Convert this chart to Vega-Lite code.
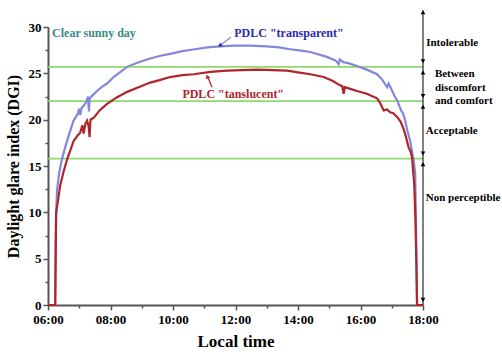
{
  "$schema": "https://vega.github.io/schema/vega-lite/v6.json",
  "width": 375,
  "height": 278,
  "autosize": {"type": "none"},
  "padding": {"left": 48, "top": 27, "right": 79, "bottom": 49},
  "background": "white",
  "config": {"view": {"stroke": null}, "font": "'Liberation Serif', 'DejaVu Serif', serif"},
  "datasets": {
    "curves": [
      {"s":"transparent","t":6.00,"v":0},{"s":"transparent","t":6.23,"v":0},{"s":"transparent","t":6.24,"v":3.5},{"s":"transparent","t":6.25,"v":7},{"s":"transparent","t":6.26,"v":9.9},{"s":"transparent","t":6.29,"v":12.4},{"s":"transparent","t":6.36,"v":14.3},{"s":"transparent","t":6.45,"v":15.8},{"s":"transparent","t":6.6,"v":17.6},{"s":"transparent","t":6.72,"v":18.9},{"s":"transparent","t":6.82,"v":19.9},{"s":"transparent","t":6.95,"v":20.6},{"s":"transparent","t":7.0,"v":21.2},{"s":"transparent","t":7.03,"v":20.5},{"s":"transparent","t":7.08,"v":21.3},{"s":"transparent","t":7.14,"v":21.5},{"s":"transparent","t":7.22,"v":21.9},{"s":"transparent","t":7.28,"v":22.5},{"s":"transparent","t":7.31,"v":20.9},{"s":"transparent","t":7.33,"v":22.3},{"s":"transparent","t":7.45,"v":22.7},{"s":"transparent","t":7.6,"v":23.2},{"s":"transparent","t":7.75,"v":23.6},{"s":"transparent","t":7.89,"v":23.9},{"s":"transparent","t":8.1,"v":24.6},{"s":"transparent","t":8.3,"v":25.1},{"s":"transparent","t":8.53,"v":25.7},{"s":"transparent","t":8.9,"v":26.2},{"s":"transparent","t":9.27,"v":26.6},{"s":"transparent","t":9.6,"v":26.9},{"s":"transparent","t":9.91,"v":27.1},{"s":"transparent","t":10.3,"v":27.4},{"s":"transparent","t":10.7,"v":27.6},{"s":"transparent","t":11.1,"v":27.8},{"s":"transparent","t":11.5,"v":27.9},{"s":"transparent","t":12.0,"v":28.0},{"s":"transparent","t":12.5,"v":28.0},{"s":"transparent","t":13.0,"v":27.9},{"s":"transparent","t":13.4,"v":27.8},{"s":"transparent","t":13.75,"v":27.6},{"s":"transparent","t":14.1,"v":27.45},{"s":"transparent","t":14.39,"v":27.3},{"s":"transparent","t":14.9,"v":26.8},{"s":"transparent","t":15.2,"v":26.4},{"s":"transparent","t":15.3,"v":26.0},{"s":"transparent","t":15.34,"v":26.5},{"s":"transparent","t":15.45,"v":26.2},{"s":"transparent","t":15.6,"v":26.1},{"s":"transparent","t":15.89,"v":25.8},{"s":"transparent","t":16.2,"v":25.4},{"s":"transparent","t":16.53,"v":24.9},{"s":"transparent","t":16.7,"v":24.3},{"s":"transparent","t":16.85,"v":23.5},{"s":"transparent","t":16.9,"v":23.9},{"s":"transparent","t":17.0,"v":23.2},{"s":"transparent","t":17.08,"v":22.6},{"s":"transparent","t":17.17,"v":22.1},{"s":"transparent","t":17.3,"v":21.0},{"s":"transparent","t":17.36,"v":20.7},{"s":"transparent","t":17.43,"v":19.9},{"s":"transparent","t":17.5,"v":18.8},{"s":"transparent","t":17.59,"v":17.7},{"s":"transparent","t":17.70,"v":15.6},{"s":"transparent","t":17.75,"v":14.2},{"s":"transparent","t":17.77,"v":10},{"s":"transparent","t":17.79,"v":5},{"s":"transparent","t":17.81,"v":0},
      {"s":"translucent","t":6.00,"v":0},{"s":"translucent","t":6.23,"v":0},{"s":"translucent","t":6.24,"v":3.5},{"s":"translucent","t":6.25,"v":7},{"s":"translucent","t":6.26,"v":9.9},{"s":"translucent","t":6.39,"v":12.9},{"s":"translucent","t":6.5,"v":14.4},{"s":"translucent","t":6.61,"v":15.7},{"s":"translucent","t":6.82,"v":17.7},{"s":"translucent","t":6.95,"v":18.3},{"s":"translucent","t":7.03,"v":18.6},{"s":"translucent","t":7.1,"v":19.4},{"s":"translucent","t":7.14,"v":18.5},{"s":"translucent","t":7.2,"v":19.6},{"s":"translucent","t":7.25,"v":19.9},{"s":"translucent","t":7.3,"v":19.3},{"s":"translucent","t":7.33,"v":18.1},{"s":"translucent","t":7.36,"v":20.0},{"s":"translucent","t":7.46,"v":20.2},{"s":"translucent","t":7.65,"v":21.0},{"s":"translucent","t":7.89,"v":21.7},{"s":"translucent","t":8.2,"v":22.4},{"s":"translucent","t":8.53,"v":23.0},{"s":"translucent","t":8.9,"v":23.5},{"s":"translucent","t":9.27,"v":24.0},{"s":"translucent","t":9.6,"v":24.3},{"s":"translucent","t":9.91,"v":24.6},{"s":"translucent","t":10.3,"v":24.8},{"s":"translucent","t":10.66,"v":24.9},{"s":"translucent","t":11.2,"v":25.15},{"s":"translucent","t":11.73,"v":25.3},{"s":"translucent","t":12.2,"v":25.35},{"s":"translucent","t":12.7,"v":25.4},{"s":"translucent","t":13.2,"v":25.35},{"s":"translucent","t":13.65,"v":25.3},{"s":"translucent","t":14.0,"v":25.1},{"s":"translucent","t":14.4,"v":24.9},{"s":"translucent","t":14.82,"v":24.6},{"s":"translucent","t":15.1,"v":24.2},{"s":"translucent","t":15.35,"v":23.7},{"s":"translucent","t":15.42,"v":23.6},{"s":"translucent","t":15.46,"v":22.8},{"s":"translucent","t":15.5,"v":23.5},{"s":"translucent","t":15.7,"v":23.3},{"s":"translucent","t":15.89,"v":23.1},{"s":"translucent","t":16.2,"v":22.8},{"s":"translucent","t":16.53,"v":22.3},{"s":"translucent","t":16.63,"v":21.8},{"s":"translucent","t":16.74,"v":21.0},{"s":"translucent","t":16.85,"v":21.1},{"s":"translucent","t":16.95,"v":20.8},{"s":"translucent","t":17.05,"v":20.7},{"s":"translucent","t":17.17,"v":20.3},{"s":"translucent","t":17.28,"v":19.8},{"s":"translucent","t":17.38,"v":19.0},{"s":"translucent","t":17.45,"v":18.2},{"s":"translucent","t":17.54,"v":17.0},{"s":"translucent","t":17.6,"v":16.6},{"s":"translucent","t":17.65,"v":15.9},{"s":"translucent","t":17.72,"v":13},{"s":"translucent","t":17.76,"v":9},{"s":"translucent","t":17.79,"v":4},{"s":"translucent","t":17.81,"v":0},{"s":"translucent","t":18.0,"v":0}
    ],
    "levels": [
      {"level":"intolerable","t":6,"v":25.7},{"level":"intolerable","t":18,"v":25.7},
      {"level":"discomfort","t":6,"v":22},{"level":"discomfort","t":18,"v":22},
      {"level":"acceptable","t":6,"v":15.8},{"level":"acceptable","t":18,"v":15.8}
    ],
    "scale": [{"t":18,"v":0},{"t":18,"v":31.8}],
    "heads": [
      {"dir":"up","t":18,"v":31.6},{"dir":"down","t":18,"v":26.3},{"dir":"up","t":18,"v":25.1},
      {"dir":"down","t":18,"v":22.55},{"dir":"up","t":18,"v":21.4},{"dir":"down","t":18,"v":16.35},
      {"dir":"up","t":18,"v":15.2},{"dir":"down","t":18,"v":0.55}
    ],
    "pointers": [
      {"p":"transparent","t":11.856,"v":28.9},{"p":"transparent","t":11.50,"v":28.0},
      {"p":"translucent","t":11.248,"v":23.5},{"p":"translucent","t":11.10,"v":24.7}
    ],
    "tips": [
      {"p":"transparent","t":11.50,"v":28.0},
      {"p":"translucent","t":11.10,"v":24.65}
    ],
    "notes": [
      {"kind":"sunny","t":6.13,"v":29.35,"text":"Clear sunny day"},
      {"kind":"transparent","t":11.96,"v":29.3,"text":"PDLC \"transparent\""},
      {"kind":"translucent","t":10.30,"v":22.75,"text":"PDLC \"tanslucent\""},
      {"kind":"zone","t":18.1,"v":28.3,"text":"Intolerable"},
      {"kind":"zone","t":18.38,"v":24.9,"text":"Between"},
      {"kind":"zone","t":18.38,"v":23.45,"text":"discomfort"},
      {"kind":"zone","t":18.38,"v":22.0,"text":"and comfort"},
      {"kind":"zone","t":18.09,"v":18.8,"text":"Acceptable"},
      {"kind":"zone","t":18.09,"v":11.6,"text":"Non perceptible"}
    ]
  },
  "encoding": {
    "x": {
      "field": "t", "type": "quantitative",
      "scale": {"domain": [6, 18], "nice": false, "zero": false},
      "axis": {
        "title": "Local time",
        "values": [6,7,8,9,10,11,12,13,14,15,16,17,18],
        "labelExpr": "datum.value % 2 == 0 ? (datum.value < 10 ? '0' : '') + datum.value + ':00' : ''",
        "tickSize": {"condition": {"test": "datum.value % 2 == 1", "value": 3}, "value": 5},
        "grid": false, "domainColor": "#555555", "domainWidth": 2, "tickColor": "#555555", "tickWidth": 1.5,
        "labelFont": "'Liberation Serif', 'DejaVu Serif', serif", "labelFontWeight": "bold", "labelFontSize": 13, "labelColor": "black",
        "labelPadding": 3, "labelFlush": false, "labelOverlap": false,
        "titleFont": "'Liberation Serif', 'DejaVu Serif', serif", "titleFontSize": 17, "titleFontWeight": "bold", "titleColor": "black", "titlePadding": 7
      }
    },
    "y": {
      "field": "v", "type": "quantitative",
      "scale": {"domain": [0, 30], "nice": false, "zero": true},
      "axis": {
        "title": "Daylight glare index (DGI)",
        "values": [0,2.5,5,7.5,10,12.5,15,17.5,20,22.5,25,27.5,30],
        "labelExpr": "datum.value % 5 == 0 ? datum.value : ''",
        "tickSize": {"condition": {"test": "datum.value % 5 != 0", "value": 3}, "value": 5},
        "grid": false, "domainColor": "#555555", "domainWidth": 2, "tickColor": "#555555", "tickWidth": 1.5,
        "labelFont": "'Liberation Serif', 'DejaVu Serif', serif", "labelFontWeight": "bold", "labelFontSize": 13, "labelColor": "black",
        "labelPadding": 2, "labelFlush": false, "labelOverlap": false,
        "titleFont": "'Liberation Serif', 'DejaVu Serif', serif", "titleFontSize": 16, "titleFontWeight": "bold", "titleColor": "black", "titlePadding": 7
      }
    }
  },
  "layer": [
    {
      "data": {"name": "levels"},
      "mark": {"type": "line", "color": "#8fd96c", "strokeWidth": 1.6},
      "encoding": {"detail": {"field": "level"}}
    },
    {
      "data": {"name": "curves"},
      "mark": {"type": "line", "strokeWidth": 2.2, "interpolate": "linear"},
      "encoding": {
        "color": {"field": "s", "type": "nominal", "scale": {"domain": ["transparent", "translucent"], "range": ["#8387dc", "#b0252a"]}, "legend": null},
        "detail": {"field": "s"}
      }
    },
    {
      "data": {"name": "scale"},
      "mark": {"type": "line", "color": "black", "strokeWidth": 1},
      "encoding": {}
    },
    {
      "data": {"name": "heads"},
      "transform": [{"filter": "datum.dir == 'up'"}],
      "mark": {"type": "point", "shape": "triangle-up", "filled": true, "color": "black", "size": 22, "opacity": 1},
      "encoding": {}
    },
    {
      "data": {"name": "heads"},
      "transform": [{"filter": "datum.dir == 'down'"}],
      "mark": {"type": "point", "shape": "triangle-down", "filled": true, "color": "black", "size": 22, "opacity": 1},
      "encoding": {}
    },
    {
      "data": {"name": "pointers"},
      "mark": {"type": "line", "strokeWidth": 1.3},
      "encoding": {
        "detail": {"field": "p"},
        "color": {"field": "p", "type": "nominal", "scale": {"domain": ["transparent", "translucent"], "range": ["#2b2bb0", "#b0252a"]}, "legend": null}
      }
    },
    {
      "data": {"name": "tips"},
      "transform": [{"filter": "datum.p == 'transparent'"}],
      "mark": {"type": "point", "shape": "triangle-up", "filled": true, "color": "#2b2bb0", "size": 22, "angle": 233, "opacity": 1},
      "encoding": {}
    },
    {
      "data": {"name": "tips"},
      "transform": [{"filter": "datum.p == 'translucent'"}],
      "mark": {"type": "point", "shape": "triangle-up", "filled": true, "color": "#b0252a", "size": 22, "angle": 338, "opacity": 1},
      "encoding": {}
    },
    {
      "data": {"name": "notes"},
      "transform": [{"filter": "datum.kind == 'sunny'"}],
      "mark": {"type": "text", "align": "left", "baseline": "middle", "font": "'Liberation Serif', 'DejaVu Serif', serif", "fontWeight": "bold", "fontSize": 12, "color": "#3a8a84"},
      "encoding": {"text": {"field": "text"}}
    },
    {
      "data": {"name": "notes"},
      "transform": [{"filter": "datum.kind == 'transparent'"}],
      "mark": {"type": "text", "align": "left", "baseline": "middle", "font": "'Liberation Serif', 'DejaVu Serif', serif", "fontWeight": "bold", "fontSize": 12, "color": "#2b2bb0"},
      "encoding": {"text": {"field": "text"}}
    },
    {
      "data": {"name": "notes"},
      "transform": [{"filter": "datum.kind == 'translucent'"}],
      "mark": {"type": "text", "align": "left", "baseline": "middle", "font": "'Liberation Serif', 'DejaVu Serif', serif", "fontWeight": "bold", "fontSize": 12, "color": "#b0252a"},
      "encoding": {"text": {"field": "text"}}
    },
    {
      "data": {"name": "notes"},
      "transform": [{"filter": "datum.kind == 'zone'"}],
      "mark": {"type": "text", "align": "left", "baseline": "middle", "font": "'Liberation Serif', 'DejaVu Serif', serif", "fontWeight": "bold", "fontSize": 11, "color": "black"},
      "encoding": {"text": {"field": "text"}}
    }
  ]
}
